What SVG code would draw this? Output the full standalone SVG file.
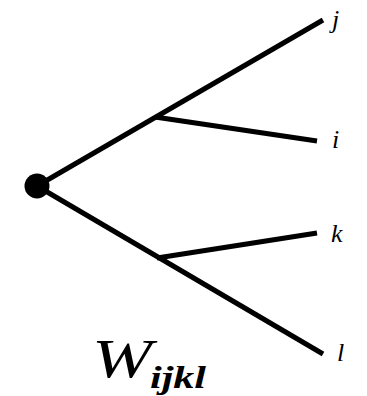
<svg xmlns="http://www.w3.org/2000/svg" width="367" height="396" viewBox="0 0 367 396">
<style>
.e{stroke:#000;stroke-width:5;stroke-linecap:butt;fill:none}
.lb{font-family:"Liberation Serif","DejaVu Serif",serif;font-style:italic;font-size:26px;fill:#000}
.t{font-family:"Liberation Serif","DejaVu Serif",serif;font-style:italic;fill:#000}
</style>
<rect width="367" height="396" fill="#fff"/>
<g id="connectors">
<line class="e" x1="37" y1="186" x2="323" y2="20"/>
<line class="e" x1="155" y1="117" x2="317" y2="141"/>
<line class="e" x1="37" y1="186" x2="323" y2="354"/>
<line class="e" x1="157" y1="258" x2="317" y2="233"/>
</g>
<g id="root"><circle cx="37" cy="186" r="12.5" fill="#000"/></g>
<g id="leaf-j"><text class="lb" x="332" y="28">j</text></g>
<g id="leaf-i"><text class="lb" x="332" y="148">i</text></g>
<g id="leaf-k"><text class="lb" x="331" y="242">k</text></g>
<g id="leaf-l"><text class="lb" x="337" y="361">l</text></g>
<g id="title">
<text class="t" x="92" y="377" font-size="54" textLength="60" lengthAdjust="spacingAndGlyphs">W</text>
<text class="t" x="150" y="388" font-size="31" font-weight="bold" textLength="56" lengthAdjust="spacingAndGlyphs">ijkl</text>
</g>
</svg>
